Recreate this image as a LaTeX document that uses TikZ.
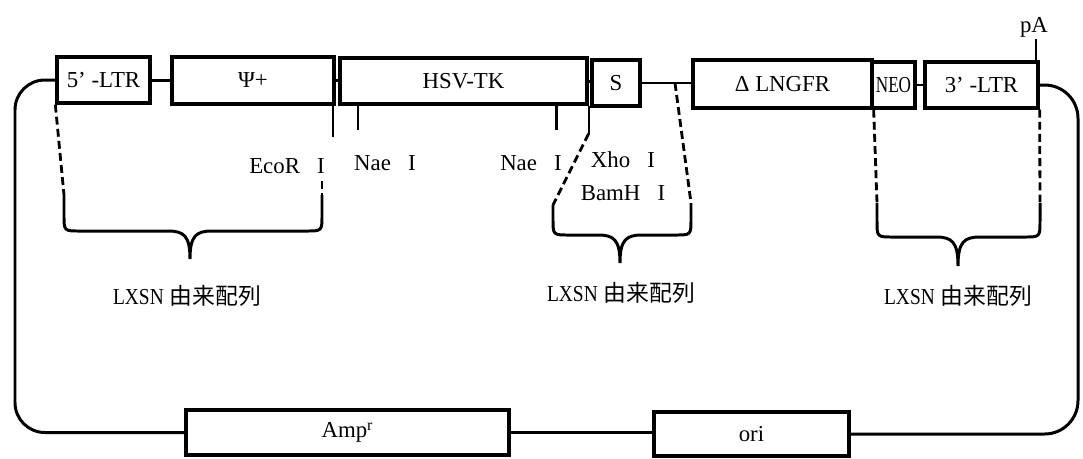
\documentclass[tikz,border=0pt]{standalone}
\usepackage{fontspec}
\setmainfont{Liberation Serif}
\newfontfamily\cjk{Noto Sans CJK JP}
\begin{document}
\begin{tikzpicture}[x=0.02cm,y=-0.02cm,
  every node/.style={font=\fontsize{13}{15}\selectfont},
  box/.style={draw,line width=1.9pt,inner sep=0pt},
  bb/.style={line width=1.7pt},
  fine/.style={line width=1.3pt},
  dashline/.style={line width=1.6pt,dash pattern=on 4.5pt off 2.4pt},
  brace/.style={line width=1.7pt}]
  \useasboundingbox (0,0) rectangle (1083,458);

  % vector elements
  \node[box,minimum width=1.86cm,minimum height=0.92cm] (ltr5) at (103.5,80) {5’ -LTR};
  \node[box,minimum width=3.24cm,minimum height=0.94cm] (psi) at (253,80.5) {Ψ+};
  \node[box,minimum width=4.94cm,minimum height=0.92cm] (hsvtk) at (463.5,81) {HSV-TK};
  \node[box,minimum width=0.96cm,minimum height=0.92cm] (sig) at (616,83) {S};
  \node[box,minimum width=3.58cm,minimum height=0.96cm] (lngfr) at (782.5,84) {Δ LNGFR};
  \node[box,minimum width=0.86cm,minimum height=0.92cm] (neo) at (893.5,85) {\scalebox{0.75}[1]{NEO}};
  \node[box,minimum width=2.26cm,minimum height=0.92cm] (ltr3) at (981.5,85) {3’ -LTR};
  \node[box,minimum width=6.46cm,minimum height=0.90cm] (amp) at (347.5,432.5) {Amp\textsuperscript{r}};
  \node[box,minimum width=3.90cm,minimum height=0.88cm] (ori) at (751.5,434) {ori};

  % backbone
  \coordinate (loopL) at (15,0);
  \coordinate (loopR) at (1078,0);
  \draw[bb] (ltr5.east) -- (ltr5.east -| psi.west);
  \draw[bb] (psi.east) -- (psi.east -| hsvtk.west);
  \draw[bb] (hsvtk.east) -- (hsvtk.east -| sig.west);
  \draw[fine] (sig.east) -- (sig.east -| lngfr.west);
  \draw[fine] (neo.east) -- (ltr3.west);
  \draw[fine] (amp.east) -- (amp.east -| ori.west);
  \draw[bb,rounded corners=17pt] (ltr5.west) -| (loopL |- amp.west) -- (amp.west);
  \draw[bb,rounded corners=19pt] (ltr3.east) -| (loopR |- ori.east) -- (ori.east);

  % sites
  \draw[fine] (psi.south east) ++(-3,0) -- ++(0,31);
  \draw[fine] (hsvtk.south west) ++(20,0) -- ++(0,24);
  \draw[fine] (hsvtk.south west) ++(218,0) -- ++(0,24);
  \draw[fine] (hsvtk.south east) -- ++(0,28) coordinate (xho);
  \draw[fine] (ltr3.north east) ++(-4,0) -- ++(0,-21) coordinate (pa);
  \node (ecor) at (287,166) {EcoR~\enspace I};
  \node (nae1) at (385,163) {Nae~\enspace I};
  \node (nae2) at (531,163) {Nae~\enspace I};
  \node (xhol) at (623,160) {Xho~\enspace I};
  \node (bamh) at (623,193) {BamH~\enspace I};
  \node (palab) at (1034,27) {pA};
  \coordinate (xsite) at (675,83);
  \coordinate (ecoend) at (322,181);

  % LXSN braces
  \coordinate (b1l) at (64,195);
  \coordinate (b1r) at (322,195);
  \coordinate (b2l) at (553,205);
  \coordinate (b2r) at (691,203);
  \coordinate (b3l) at (877,203);
  \coordinate (b3r) at (1040,203);
  \draw[dashline] (ltr5.south west) -- (b1l);
  \draw[dashline] (ecoend) -- (b1r);
  \draw[dashline] (xho) -- (b2l);
  \draw[dashline] (xsite) -- (b2r);
  \draw[dashline] (lngfr.south east) -- (b3l);
  \draw[dashline] (ltr3.south east) -- (b3r);
  \draw[brace] (b1l) -- (64,215) .. controls (64,231) .. (80,231) -- (168,231)
    .. controls (184,231) and (190,236) .. (190,259) .. controls (190,236) and (196,231) .. (212,231)
    -- (306,231) .. controls (322,231) .. (322,215) -- (b1r);
  \draw[brace] (b2l) -- (553,219) .. controls (553,235) .. (569,235) -- (598,235)
    .. controls (614,235) and (620,240) .. (620,263) .. controls (620,240) and (626,235) .. (642,235)
    -- (675,235) .. controls (691,235) .. (691,219) -- (b2r);
  \draw[brace] (b3l) -- (877,221) .. controls (877,237) .. (893,237) -- (936,237)
    .. controls (952,237) and (958,242) .. (958,266) .. controls (958,242) and (964,237) .. (980,237)
    -- (1024,237) .. controls (1040,237) .. (1040,221) -- (b3r);
  \node (lab1) at (187,296) {\scalebox{0.85}[1]{LXSN} {\cjk 由来配列}};
  \node (lab2) at (621,293) {\scalebox{0.85}[1]{LXSN} {\cjk 由来配列}};
  \node (lab3) at (958,296) {\scalebox{0.85}[1]{LXSN} {\cjk 由来配列}};
\end{tikzpicture}
\end{document}
